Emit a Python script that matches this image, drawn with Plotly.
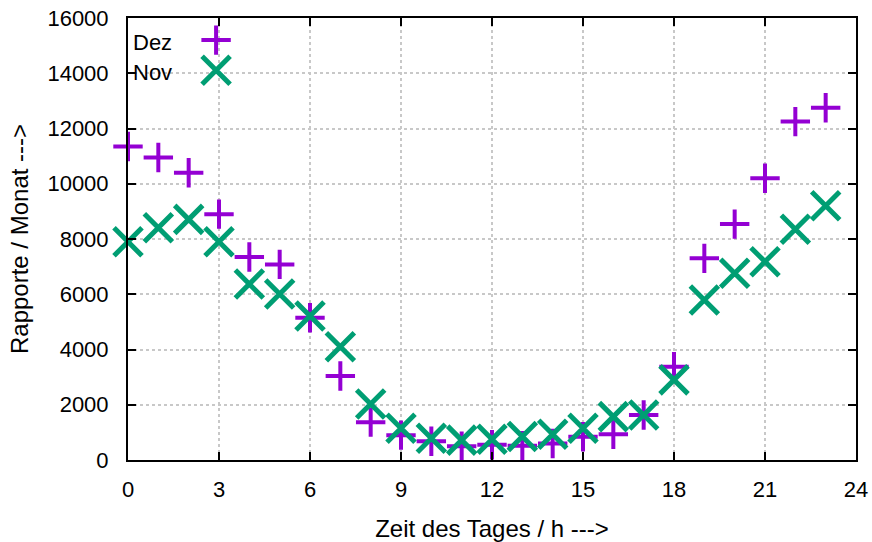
import plotly.graph_objects as go

hours = list(range(24))
dez = [11350, 10950, 10400, 8900, 7350, 7080, 5150, 3040, 1370, 900,
       680, 500, 550, 520, 600, 840, 930, 1630, 3380, 7300,
       8540, 10200, 12250, 12750]
nov = [7900, 8410, 8710, 7900, 6370, 6010, 5210, 4100, 2030, 1150,
       790, 720, 750, 850, 930, 1150, 1570, 1630, 2900, 5790,
       6760, 7180, 8350, 9200]
series_names = ["Dez", "Nov"]
x_ticks = [0, 3, 6, 9, 12, 15, 18, 21, 24]
y_ticks = [0, 2000, 4000, 6000, 8000, 10000, 12000, 14000, 16000]
y_tick_labels = [str(v) for v in y_ticks]

PURPLE = "#9400D3"
GREEN = "#009E73"
FONT = "Liberation Sans, Arial, sans-serif"
FS = 22
FS_TITLE = 24

fig = go.Figure()
fig.add_trace(go.Scatter(
    x=hours, y=dez, mode="markers", name=series_names[0], cliponaxis=False,
    marker=dict(symbol="cross-thin-open", size=21, color=PURPLE,
                line=dict(color=PURPLE, width=4)),
    showlegend=False))
fig.add_trace(go.Scatter(
    x=hours, y=nov, mode="markers", name=series_names[1], cliponaxis=False,
    marker=dict(symbol="x-thin-open", size=28, color=GREEN,
                line=dict(color=GREEN, width=5)),
    showlegend=False))

# custom gnuplot-style key (text left, sample right)
key_y = [0.950, 0.882]
fig.add_trace(go.Scatter(
    x=[0.121], y=[key_y[0]], xaxis="x2", yaxis="y2", mode="markers",
    cliponaxis=False, hoverinfo="skip", showlegend=False,
    marker=dict(symbol="cross-thin-open", size=21, color=PURPLE,
                line=dict(color=PURPLE, width=4))))
fig.add_trace(go.Scatter(
    x=[0.121], y=[key_y[1]], xaxis="x2", yaxis="y2", mode="markers",
    cliponaxis=False, hoverinfo="skip", showlegend=False,
    marker=dict(symbol="x-thin-open", size=28, color=GREEN,
                line=dict(color=GREEN, width=5))))
for name, ky in zip(series_names, key_y):
    fig.add_annotation(x=0.004, y=ky - 0.006, xref="paper", yref="paper",
                       text=name, showarrow=False, xanchor="left",
                       yanchor="middle",
                       font=dict(family=FONT, size=FS, color="#000"))

axis_common = dict(
    showline=True, linecolor="#000", linewidth=2, mirror="ticks",
    ticks="inside", ticklen=8, tickwidth=2, tickcolor="#000",
    showgrid=True, gridcolor="#c8c8c8", griddash="dot", gridwidth=1.5,
    zeroline=False, automargin=False,
    tickfont=dict(family=FONT, size=FS, color="#000"),
)

fig.update_layout(
    width=872, height=542,
    margin=dict(l=128, r=16, t=18, b=82),
    paper_bgcolor="white", plot_bgcolor="white",
    font=dict(family=FONT, size=FS, color="#000"),
    xaxis=dict(range=[0, 24], tickvals=x_ticks, ticklabelstandoff=9,
               title=dict(text="Zeit des Tages / h --->", standoff=22,
                          font=dict(family=FONT, size=FS_TITLE)),
               **axis_common),
    yaxis=dict(range=[0, 16000], tickvals=y_ticks, ticktext=y_tick_labels,
               ticklabelstandoff=13,
               title=dict(text="Rapporte / Monat --->", standoff=12,
                          font=dict(family=FONT, size=FS_TITLE)),
               **axis_common),
    xaxis2=dict(range=[0, 1], overlaying="x", anchor="y2", visible=False,
                fixedrange=True),
    yaxis2=dict(range=[0, 1], overlaying="y", anchor="x2", visible=False,
                fixedrange=True),
    showlegend=False,
)

fig.write_html("out.html")
